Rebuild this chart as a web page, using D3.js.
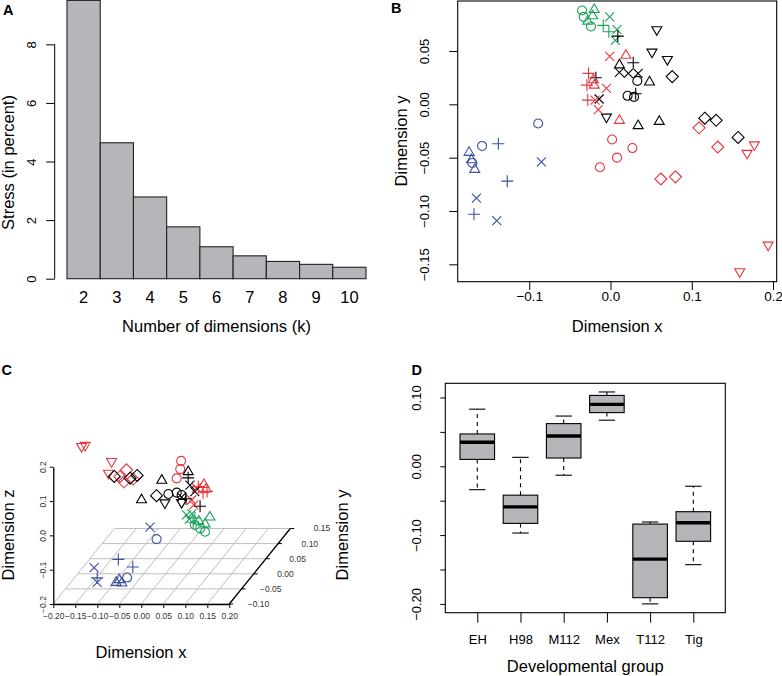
<!DOCTYPE html>
<html>
<head>
<meta charset="utf-8">
<script src="https://cdn.jsdelivr.net/npm/d3@7"></script>
<style>
  body { margin: 0; background: #fff; }
  svg { display: block; font-family: "Liberation Sans", Arial, Helvetica, sans-serif; }
</style>
</head>
<body>
<svg id="svg" width="782" height="676"></svg>
<script>
// ---- A: stress per number of dimensions
var dims = ["2", "3", "4", "5", "6", "7", "8", "9", "10"];
var stress = [9.5, 4.64, 2.79, 1.77, 1.09, 0.78, 0.59, 0.49, 0.39];
var stressTicks = [0, 2, 4, 6, 8];

// ---- B: 2D configuration  [colour, symbol, x, y]
var mds2 = [
  ["b","t",-0.174,-0.045],["b","t",-0.171,-0.052],["b","t",-0.167,-0.061],
  ["b","o",-0.170,-0.055],["b","o",-0.158,-0.039],["b","o",-0.089,-0.018],
  ["b","p",-0.138,-0.037],["b","p",-0.127,-0.072],["b","p",-0.168,-0.103],
  ["b","x",-0.085,-0.054],["b","x",-0.165,-0.088],["b","x",-0.140,-0.109],
  ["g","o",-0.035,0.088],["g","o",-0.033,0.082],["g","o",-0.024,0.073],
  ["g","t",-0.020,0.089],["g","t",-0.022,0.083],["g","t",-0.028,0.078],
  ["g","p",-0.009,0.074],["g","p",-0.002,0.068],
  ["g","x",-0.001,0.082],["g","x",0.008,0.070],["g","x",0.006,0.060],
  ["k","v",0.057,0.070],["k","v",0.051,0.049],["k","v",0.070,0.042],["k","v",-0.005,-0.012],
  ["k","d",0.076,0.026],["k","d",0.116,-0.013],["k","d",0.130,-0.015],["k","d",0.157,-0.031],
  ["k","t",0.011,0.037],["k","t",0.048,0.021],["k","t",0.034,-0.020],["k","t",0.060,-0.016],
  ["k","o",0.033,0.022],["k","o",0.021,0.008],["k","o",0.029,0.007],
  ["k","p",0.009,0.064],["k","p",0.028,0.039],["k","p",0.031,0.010],["k","p",-0.018,0.025],
  ["k","x",0.011,0.030],["k","x",0.022,0.029],["k","x",0.034,0.029],["k","x",-0.014,0.005],
  ["r","o",0.002,-0.033],["r","o",0.008,-0.050],["r","o",0.027,-0.041],["r","o",-0.013,-0.059],
  ["r","t",0.019,0.046],["r","t",0.011,-0.015],["r","t",-0.021,0.023],["r","t",-0.020,0.018],
  ["r","p",-0.027,0.029],["r","p",-0.029,0.018],["r","p",-0.028,0.004],
  ["r","x",-0.001,0.045],["r","x",-0.005,0.015],["r","x",-0.019,0.004],["r","x",-0.015,-0.005],
  ["r","d",0.109,-0.022],["r","d",0.132,-0.040],["r","d",0.062,-0.070],["r","d",0.080,-0.068],
  ["r","v",0.168,-0.046],["r","v",0.177,-0.038],["r","v",0.159,-0.157],["r","v",0.194,-0.132]
];
var bTicksX = [-0.1, 0, 0.1, 0.2];
var bTicksY = [-0.15, -0.1, -0.05, 0, 0.05];

// ---- C: 3D configuration  [colour, symbol, x, y, z]
var mds3 = [
  ["r","v",-0.191,0,0.171],["r","v",-0.183,0,0.174],["r","v",-0.123,0,0.127],["r","v",-0.130,0,0.093],
  ["r","d",-0.104,0,0.083],["r","d",-0.089,0,0.103],["r","d",-0.095,0,0.068],["r","d",-0.074,0,0.076],
  ["r","o",0.035,0,0.129],["r","o",0.033,0,0.105],["r","o",0.025,0,0.078],
  ["r","t",0.087,0,0.060],["r","t",0.092,0,0.047],
  ["r","p",0.074,0,0.054],["r","p",0.085,0,0.036],["r","p",0.094,0,0.040],
  ["r","x",0.059,0,0.015],["r","x",0.070,0,0.050],["r","x",0.064,0,0.001],
  ["k","d",-0.128,0.02,0.066],["k","d",-0.092,0.02,0.061],["k","d",-0.076,0.02,0.069],["k","d",-0.032,0.02,0.010],
  ["k","t",-0.066,0.02,-0.002],["k","t",-0.020,0.02,0.055],["k","t",0.040,0.02,0.080],
  ["k","v",-0.013,0.02,-0.011],["k","v",0.025,0.02,-0.010],
  ["k","o",-0.005,0.02,0.015],["k","o",0.014,0.02,0.019],["k","o",0.025,0.02,0.012],
  ["k","x",0.044,0.02,0.041],["k","x",0.055,0.02,0.022],["k","x",0.025,0.02,0.006],
  ["k","p",0.067,0.02,-0.021],["k","p",0.040,0.02,0.062],["k","p",0.035,0.02,0.001],
  ["g","x",0.003,0.08,-0.099],["g","x",0.015,0.08,-0.096],["g","x",0.009,0.08,-0.111],
  ["g","p",0.022,0.08,-0.108],["g","p",0.018,0.08,-0.120],
  ["g","t",0.056,0.08,-0.105],["g","t",0.045,0.08,-0.125],["g","t",0.031,0.08,-0.117],
  ["g","o",0.022,0.08,-0.128],["g","o",0.034,0.08,-0.138],["g","o",0.045,0.08,-0.148],
  ["b","x",-0.008,-0.05,-0.020],["b","x",-0.135,-0.05,-0.138],["b","x",-0.128,-0.05,-0.181],
  ["b","o",0.007,-0.05,-0.055],["b","o",-0.060,-0.05,-0.167],
  ["b","p",-0.080,-0.05,-0.114],["b","p",-0.047,-0.05,-0.136],["b","p",-0.128,-0.05,-0.168],
  ["b","t",-0.085,-0.05,-0.181],["b","t",-0.078,-0.05,-0.173],["b","t",-0.072,-0.05,-0.183]
];
var cTicksX = [-0.2, -0.15, -0.1, -0.05, 0, 0.05, 0.1, 0.15, 0.2];
var cTicksY = [-0.1, -0.05, 0, 0.05, 0.1, 0.15];
var cTicksZ = [-0.2, -0.1, 0, 0.1, 0.2];

// ---- D: boxplot per developmental group
var groups = ["EH", "H98", "M112", "Mex", "T112", "Tig"];
var wLo = [-0.034, -0.097, -0.013, 0.067, -0.200, -0.143];
var q1  = [0.010, -0.083, 0.012, 0.078, -0.191, -0.109];
var med = [0.035, -0.059, 0.044, 0.090, -0.135, -0.082];
var q3  = [0.047, -0.042, 0.062, 0.103, -0.084, -0.066];
var wHi = [0.083, 0.013, 0.073, 0.108, -0.081, -0.029];
var dTicks = [-0.2, -0.15, -0.1, -0.05, 0, 0.05, 0.1];
var dLabels = [-0.2, -0.1, 0, 0.1];

var colours = { b: "#3C4FA1", r: "#E8363E", g: "#19A15A", k: "#000000" };
var grey = "#B4B6BA";

function symPath(s) {
  switch (s) {
    case "o": return "M4.5,0A4.5,4.5 0 1,1 -4.5,0A4.5,4.5 0 1,1 4.5,0Z";
    case "t": return "M0,-5.6L5,3L-5,3Z";
    case "v": return "M0,5.6L5,-3L-5,-3Z";
    case "p": return "M-6,0H6M0,-6V6";
    case "x": return "M-4.5,-4.5L4.5,4.5M-4.5,4.5L4.5,-4.5";
    case "d": return "M0,-6L6,0L0,6L-6,0Z";
  }
}

var svg = d3.select("#svg");

// clean up the default d3 axis styling, R look
function rStyle(g, size) {
  g.attr("font-family", null).attr("font-size", null);
  g.selectAll(".tick line").attr("stroke", "#000");
  g.selectAll(".tick text").attr("font-size", size).attr("fill", "#000");
}
function vText(x, y, txt, size) {
  svg.append("text").attr("transform", "translate(" + x + "," + y + ") rotate(-90)")
    .attr("text-anchor", "middle").attr("font-size", size).text(txt);
}
function hText(x, y, txt, size) {
  svg.append("text").attr("x", x).attr("y", y)
    .attr("text-anchor", "middle").attr("font-size", size).text(txt);
}
function panelLabel(t, x, y) {
  svg.append("text").attr("x", x).attr("y", y).attr("font-weight", "bold")
    .attr("font-size", 14.5).text(t);
}

// ================= A
var ax = d3.scaleBand().domain(dims).range([67, 366]).padding(0);
var ay = d3.scaleLinear().domain([0, 9.5]).range([278.7, 0.4]);
var gA = svg.append("g");

gA.selectAll(".bar").data(stress).enter().append("rect")
  .attr("class", "bar")
  .attr("x", function(d, i) { return ax(dims[i]); })
  .attr("y", function(d) { return ay(d); })
  .attr("width", ax.bandwidth())
  .attr("height", function(d) { return ay(0) - ay(d); })
  .attr("fill", grey).attr("stroke", "#222").attr("stroke-width", 1.1);

var ayAxis = gA.append("g").attr("transform", "translate(54.7,0)")
  .call(d3.axisLeft(ay).tickValues(stressTicks).tickSize(8.5).tickFormat(d3.format("d")));
ayAxis.select(".domain").attr("d", "M0," + ay(8) + "V" + ay(0)).attr("stroke", "#000");
rStyle(ayAxis, 13);
ayAxis.selectAll(".tick text").attr("x", null).attr("text-anchor", "middle")
  .attr("dy", "0.35em").attr("transform", "translate(-23,0) rotate(-90)");

var axAxis = gA.append("g").attr("transform", "translate(0,278.7)")
  .call(d3.axisBottom(ax).tickSize(0));
axAxis.select(".domain").remove();
rStyle(axAxis, 16.5);
axAxis.selectAll(".tick text").attr("y", 19).attr("dy", "0.35em");

vText(13.5, 162.5, "Stress (in percent)", 16.5);
hText(216.5, 332, "Number of dimensions (k)", 16.5);
panelLabel("A", 3, 15);

// ================= B
var bx = d3.scaleLinear().domain([-0.188, 0.2045]).range([457.7, 776.7]);
var by = d3.scaleLinear().domain([-0.1663, 0.0969]).range([281.7, 1]);
var gB = svg.append("g");

gB.append("rect").attr("x", 457.7).attr("y", 1).attr("width", 319).attr("height", 280.7)
  .attr("fill", "none").attr("stroke", "#000").attr("stroke-width", 1.1);

gB.selectAll(".pt").data(mds2).enter().append("path")
  .attr("class", "pt")
  .attr("transform", function(d) { return "translate(" + bx(d[2]) + "," + by(d[3]) + ")"; })
  .attr("d", function(d) { return symPath(d[1]); })
  .attr("fill", "none").attr("stroke", function(d) { return colours[d[0]]; })
  .attr("stroke-width", 1.1);

var bxAxis = gB.append("g").attr("transform", "translate(0,281.7)")
  .call(d3.axisBottom(bx).tickValues(bTicksX).tickSize(8.3).tickFormat(d3.format(".1f")));
bxAxis.select(".domain").remove();
rStyle(bxAxis, 13.5);
bxAxis.selectAll(".tick text").attr("y", 14.5).attr("dy", "0.35em");

var byAxis = gB.append("g").attr("transform", "translate(457.7,0)")
  .call(d3.axisLeft(by).tickValues(bTicksY).tickSize(8.4).tickFormat(d3.format(".2f")));
byAxis.select(".domain").remove();
rStyle(byAxis, 13);
byAxis.selectAll(".tick text").attr("x", null).attr("text-anchor", "middle")
  .attr("dy", "0.35em").attr("transform", "translate(-33.4,0) rotate(-90)");

vText(406.5, 141, "Dimension y", 16.5);
hText(617.2, 332, "Dimension x", 16.5);
panelLabel("B", 391, 13);

// ================= C (oblique projection, like scatterplot3d)
var cx = d3.scaleLinear().domain([-0.2, 0.2]).range([53.3, 229.3]);
var cz = d3.scaleLinear().domain([-0.2, 0.2]).range([604, 466.7]);
var cd = d3.scaleLinear().domain([-0.1, 0.15]).range([0, 1]);
var shiftX = 61, shiftY = -75.5;
function px(x, y) { return cx(x) + cd(y) * shiftX; }
function py(y, z) { return cz(z) + cd(y) * shiftY; }

var gC = svg.append("g");
var floorZ = -0.2;
// floor grid
gC.selectAll(".gx").data(cTicksY).enter().append("line")
  .attr("x1", function(d) { return px(-0.2, d); }).attr("x2", function(d) { return px(0.2, d); })
  .attr("y1", function(d) { return py(d, floorZ); }).attr("y2", function(d) { return py(d, floorZ); })
  .attr("stroke", "#BEBEBE").attr("stroke-width", 1);
gC.selectAll(".gy").data(cTicksX).enter().append("line")
  .attr("x1", function(d) { return px(d, -0.1); }).attr("x2", function(d) { return px(d, 0.15); })
  .attr("y1", py(-0.1, floorZ)).attr("y2", py(0.15, floorZ))
  .attr("stroke", "#BEBEBE").attr("stroke-width", 1);

var cxAxis = gC.append("g").attr("transform", "translate(0,604)")
  .call(d3.axisBottom(cx).tickValues(cTicksX).tickSize(4).tickSizeOuter(0).tickFormat(d3.format(".2f")));
cxAxis.select(".domain").attr("stroke", "#000").attr("stroke-width", 1.3);
rStyle(cxAxis, 8.5);
cxAxis.selectAll(".tick text").attr("y", 11.7).attr("dy", "0.35em").attr("fill", "#333");

var czAxis = gC.append("g").attr("transform", "translate(53.3,0)")
  .call(d3.axisLeft(cz).tickValues(cTicksZ).tickSize(3.5).tickSizeOuter(0).tickFormat(d3.format(".1f")));
czAxis.select(".domain").attr("stroke", "#000").attr("stroke-width", 1.3);
rStyle(czAxis, 8.5);
czAxis.selectAll(".tick text").attr("x", null).attr("text-anchor", "middle").attr("fill", "#333")
  .attr("dy", "0.35em").attr("transform", "translate(-10,0) rotate(-90)");

// depth axis along the right edge
gC.append("line")
  .attr("x1", px(0.2, -0.1)).attr("y1", py(-0.1, floorZ))
  .attr("x2", px(0.2, 0.15)).attr("y2", py(0.15, floorZ))
  .attr("stroke", "#000").attr("stroke-width", 1.3);
var dTick = gC.selectAll(".dt").data(cTicksY).enter().append("g")
  .attr("transform", function(d) { return "translate(" + px(0.2, d) + "," + py(d, floorZ) + ")"; });
dTick.append("line").attr("x1", 0).attr("x2", 4).attr("stroke", "#000");
dTick.append("text").attr("x", 40).attr("dy", "0.35em").attr("text-anchor", "end")
  .attr("font-size", 8.5).attr("fill", "#333").text(d3.format(".2f"));

gC.selectAll(".pt").data(mds3).enter().append("path")
  .attr("class", "pt")
  .attr("transform", function(d) { return "translate(" + px(d[2], d[3]) + "," + py(d[3], d[4]) + ")"; })
  .attr("d", function(d) { return symPath(d[1]); })
  .attr("fill", "none").attr("stroke", function(d) { return colours[d[0]]; })
  .attr("stroke-width", 1.1);

vText(13.5, 535, "Dimension z", 16.5);
vText(348, 535, "Dimension y", 16.5);
hText(141, 658, "Dimension x", 16.5);
panelLabel("C", 1.5, 375);

// ================= D
var dx = d3.scaleLinear().domain([0.26, 6.74]).range([445.3, 725.3]);
var dy = d3.scaleLinear().domain([-0.2128, 0.1206]).range([612.7, 383.3]);
var gD = svg.append("g");
var boxes = groups.map(function(g, i) {
  return { name: g, pos: i + 1, lo: wLo[i], q1: q1[i], med: med[i], q3: q3[i], hi: wHi[i] };
});

var box = gD.selectAll(".box").data(boxes).enter().append("g").attr("class", "box");
box.append("line").attr("x1", function(d) { return dx(d.pos); }).attr("x2", function(d) { return dx(d.pos); })
  .attr("y1", function(d) { return dy(d.q3); }).attr("y2", function(d) { return dy(d.hi); })
  .attr("stroke", "#000").attr("stroke-width", 1.1).attr("stroke-dasharray", "4,4");
box.append("line").attr("x1", function(d) { return dx(d.pos); }).attr("x2", function(d) { return dx(d.pos); })
  .attr("y1", function(d) { return dy(d.q1); }).attr("y2", function(d) { return dy(d.lo); })
  .attr("stroke", "#000").attr("stroke-width", 1.1).attr("stroke-dasharray", "4,4");
["hi", "lo"].forEach(function(k) {
  box.append("line")
    .attr("x1", function(d) { return dx(d.pos - 0.19); }).attr("x2", function(d) { return dx(d.pos + 0.19); })
    .attr("y1", function(d) { return dy(d[k]); }).attr("y2", function(d) { return dy(d[k]); })
    .attr("stroke", "#000").attr("stroke-width", 1.1);
});
box.append("rect")
  .attr("x", function(d) { return dx(d.pos - 0.4); })
  .attr("y", function(d) { return dy(d.q3); })
  .attr("width", function(d) { return dx(d.pos + 0.4) - dx(d.pos - 0.4); })
  .attr("height", function(d) { return dy(d.q1) - dy(d.q3); })
  .attr("fill", grey).attr("stroke", "#000").attr("stroke-width", 1.1);
box.append("line")
  .attr("x1", function(d) { return dx(d.pos - 0.4); }).attr("x2", function(d) { return dx(d.pos + 0.4); })
  .attr("y1", function(d) { return dy(d.med); }).attr("y2", function(d) { return dy(d.med); })
  .attr("stroke", "#000").attr("stroke-width", 3.4);

gD.append("rect").attr("x", 445.3).attr("y", 383.3).attr("width", 280).attr("height", 229.4)
  .attr("fill", "none").attr("stroke", "#000").attr("stroke-width", 1.1);

var dyAxis = gD.append("g").attr("transform", "translate(445.3,0)")
  .call(d3.axisLeft(dy).tickValues(dTicks).tickSize(5)
    .tickFormat(function(v) { return dLabels.some(function(l) { return Math.abs(l - v) < 1e-9; }) ? d3.format(".2f")(v) : ""; }));
dyAxis.select(".domain").remove();
rStyle(dyAxis, 13);
dyAxis.selectAll(".tick text").attr("x", null).attr("text-anchor", "middle")
  .attr("dy", "0.35em").attr("transform", "translate(-29.3,0) rotate(-90)");

var dxAxis = gD.append("g").attr("transform", "translate(0,612.7)")
  .call(d3.axisBottom(dx).tickValues(d3.range(1, groups.length + 1)).tickSize(10)
    .tickFormat(function(v) { return groups[v - 1]; }));
dxAxis.select(".domain").remove();
rStyle(dxAxis, 13);
dxAxis.selectAll(".tick text").attr("y", 26.6).attr("dy", "0.35em");

hText(585.3, 672, "Developmental group", 16.5);
panelLabel("D", 411.5, 375);
</script>
</body>
</html>
